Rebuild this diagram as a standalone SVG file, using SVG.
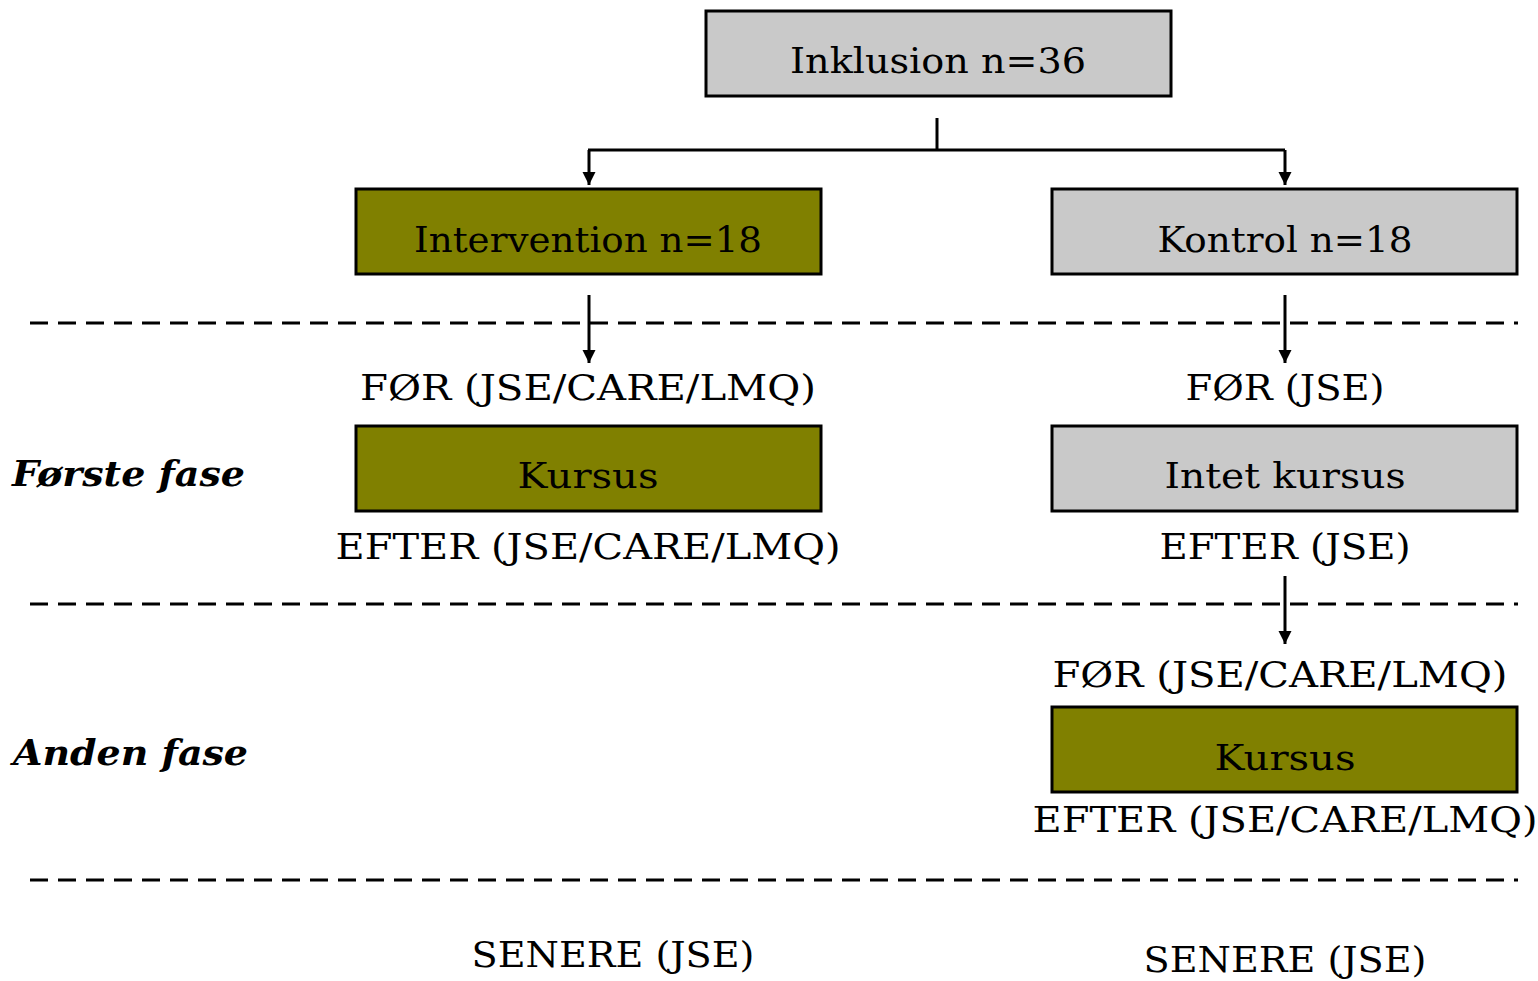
<svg xmlns="http://www.w3.org/2000/svg" width="1538" height="981" viewBox="0 0 1538 981">
<style>
.box{stroke:#000;stroke-width:3}
.grey{fill:#c9c9c9}
.olive{fill:#808000}
text{font-family:"DejaVu Serif","Liberation Serif",serif;font-size:36px;fill:#000;text-anchor:middle}
.phase{font-weight:bold;font-style:italic;text-anchor:start}
.conn{stroke:#000;stroke-width:3;fill:none}
.dash{stroke:#000;stroke-width:3;stroke-dasharray:18 10;fill:none}
</style>
<defs>
<marker id="ah" viewBox="0 0 10 10" refX="10" refY="5" markerWidth="4.5" markerHeight="4.5" orient="auto" markerUnits="strokeWidth">
<path d="M0,0 L10,5 L0,10 z" fill="#000"/>
</marker>
</defs>
<g id="dividers">
<line class="dash" x1="30" y1="323" x2="1518" y2="323"/>
<line class="dash" x1="30" y1="604" x2="1518" y2="604"/>
<line class="dash" x1="30" y1="880" x2="1518" y2="880"/>
</g>
<g id="connectors">
<line class="conn" x1="937" y1="118" x2="937" y2="150"/>
<line class="conn" x1="588" y1="150" x2="1285" y2="150"/>
<line class="conn" x1="589" y1="150" x2="589" y2="185" marker-end="url(#ah)"/>
<line class="conn" x1="1285" y1="150" x2="1285" y2="185" marker-end="url(#ah)"/>
<line class="conn" x1="589" y1="295" x2="589" y2="363" marker-end="url(#ah)"/>
<line class="conn" x1="1285" y1="295" x2="1285" y2="363" marker-end="url(#ah)"/>
<line class="conn" x1="1285" y1="576" x2="1285" y2="644" marker-end="url(#ah)"/>
</g>
<g id="inklusion">
<rect class="box grey" x="706" y="11" width="465" height="85"/>
<text x="938" y="73" textLength="296" lengthAdjust="spacingAndGlyphs">Inklusion n=36</text>
</g>
<g id="intervention">
<rect class="box olive" x="356" y="189" width="465" height="85"/>
<text x="588" y="252" textLength="348" lengthAdjust="spacingAndGlyphs">Intervention n=18</text>
</g>
<g id="kontrol">
<rect class="box grey" x="1052" y="189" width="465" height="85"/>
<text x="1285" y="252" textLength="255" lengthAdjust="spacingAndGlyphs">Kontrol n=18</text>
</g>
<g id="for-left">
<text x="588" y="400" textLength="456" lengthAdjust="spacingAndGlyphs">FØR (JSE/CARE/LMQ)</text>
</g>
<g id="for-right">
<text x="1285" y="400" textLength="199" lengthAdjust="spacingAndGlyphs">FØR (JSE)</text>
</g>
<g id="kursus-left">
<rect class="box olive" x="356" y="426" width="465" height="85"/>
<text x="588" y="488" textLength="141" lengthAdjust="spacingAndGlyphs">Kursus</text>
</g>
<g id="intet-kursus">
<rect class="box grey" x="1052" y="426" width="465" height="85"/>
<text x="1285" y="488" textLength="241" lengthAdjust="spacingAndGlyphs">Intet kursus</text>
</g>
<g id="efter-left">
<text x="588" y="559" textLength="505" lengthAdjust="spacingAndGlyphs">EFTER (JSE/CARE/LMQ)</text>
</g>
<g id="efter-right">
<text x="1285" y="559" textLength="251" lengthAdjust="spacingAndGlyphs">EFTER (JSE)</text>
</g>
<g id="for-right-2">
<text x="1280" y="687" textLength="455" lengthAdjust="spacingAndGlyphs">FØR (JSE/CARE/LMQ)</text>
</g>
<g id="kursus-right">
<rect class="box olive" x="1052" y="707" width="465" height="85"/>
<text x="1285" y="770" textLength="141" lengthAdjust="spacingAndGlyphs">Kursus</text>
</g>
<g id="efter-right-2">
<text x="1285" y="832" textLength="505" lengthAdjust="spacingAndGlyphs">EFTER (JSE/CARE/LMQ)</text>
</g>
<g id="senere-left">
<text x="613" y="967" textLength="283" lengthAdjust="spacingAndGlyphs">SENERE (JSE)</text>
</g>
<g id="senere-right">
<text x="1285" y="972" textLength="283" lengthAdjust="spacingAndGlyphs">SENERE (JSE)</text>
</g>
<g id="phase-1">
<text class="phase" x="12" y="486" textLength="233" lengthAdjust="spacingAndGlyphs">Første fase</text>
</g>
<g id="phase-2">
<text class="phase" x="13" y="765" textLength="235" lengthAdjust="spacingAndGlyphs">Anden fase</text>
</g>
</svg>
